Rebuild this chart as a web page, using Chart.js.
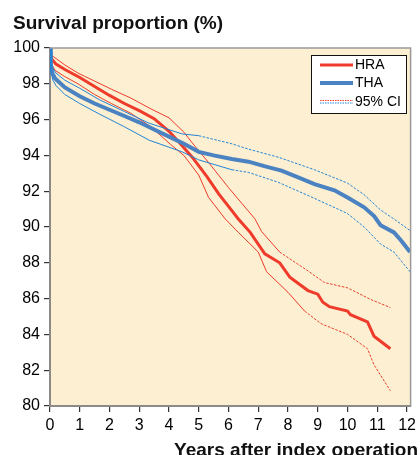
<!DOCTYPE html>
<html>
<head>
<meta charset="utf-8">
<script src="https://cdn.jsdelivr.net/npm/chart.js@4.4.1/dist/chart.umd.min.js"></script>
<style>
  html, body { margin: 0; padding: 0; background: #fff; }
  #wrap { width: 420px; height: 455px; }
</style>
</head>
<body>
<div id="wrap"><canvas id="survivalChart" width="420" height="455"></canvas></div>
<script>
//Data//
const xTicks = [0, 1, 2, 3, 4, 5, 6, 7, 8, 9, 10, 11, 12];
const yTicks = [80, 82, 84, 86, 88, 90, 92, 94, 96, 98, 100];

const hraYears = [0, 0.05, 0.2, 0.5, 1, 1.5, 2, 2.5, 3, 3.5, 4, 4.33, 4.78, 5.28, 5.67, 6, 6.33, 6.73, 7.22, 7.72, 8.06, 8.67, 9.0, 9.17, 9.39, 10.0, 10.1, 10.67, 10.89, 11.44];
const hraSurvival = [100, 99.4, 99.1, 98.8, 98.35, 97.85, 97.35, 96.9, 96.5, 96.05, 95.35, 94.75, 93.9, 92.8, 91.85, 91.15, 90.45, 89.7, 88.5, 88.0, 87.2, 86.45, 86.25, 85.8, 85.55, 85.3, 85.1, 84.7, 83.9, 83.2];

const hraUpperYears = [0, 0.05, 0.17, 0.5, 0.94, 1.5, 2.06, 2.72, 3.39, 4.0, 4.5, 4.78, 5.33, 6.0, 6.89, 7.11, 7.72, 8.17, 8.67, 9.22, 10.0, 10.78, 11.44];
const hraUpper = [100, 99.6, 99.45, 99.05, 98.6, 98.15, 97.7, 97.2, 96.6, 96.1, 95.3, 94.7, 93.6, 92.2, 90.45, 89.75, 88.6, 88.1, 87.55, 86.9, 86.6, 85.95, 85.5];

const hraLowerYears = [0, 0.05, 0.17, 0.5, 0.94, 1.5, 2.06, 2.72, 3.39, 4.06, 4.5, 5.0, 5.33, 5.89, 6.33, 7.0, 7.28, 8.0, 8.56, 9.11, 10.0, 10.67, 10.89, 11.44];
const hraLower = [100, 99.1, 98.75, 98.4, 98.0, 97.4, 96.9, 96.35, 95.6, 94.6, 94.0, 92.9, 91.65, 90.45, 89.7, 88.6, 87.5, 86.35, 85.3, 84.6, 84.0, 83.2, 82.3, 80.85];

const thaYears = [0, 0.03, 0.08, 0.17, 0.5, 1, 1.5, 2, 2.5, 3, 3.5, 4, 4.5, 5, 5.5, 6.11, 6.67, 7.2, 7.78, 8.3, 8.89, 9.56, 10, 10.56, 10.9, 11.11, 11.56, 11.8, 12.1];
const thaSurvival = [100, 99.0, 98.6, 98.3, 97.8, 97.3, 96.9, 96.55, 96.2, 95.85, 95.45, 95.05, 94.65, 94.2, 94.0, 93.8, 93.65, 93.4, 93.15, 92.8, 92.4, 92.05, 91.65, 91.1, 90.6, 90.1, 89.7, 89.25, 88.6];

const thaUpperYears = [0, 0.03, 0.1, 0.2, 0.5, 1, 1.67, 2.5, 3.33, 4.44, 5, 6.11, 6.67, 7.67, 8.89, 10, 10.56, 11.11, 11.56, 12.1];
const thaUpper = [100, 99.3, 98.85, 98.6, 98.2, 97.75, 97.1, 96.45, 95.8, 95.2, 95.1, 94.65, 94.35, 93.9, 93.2, 92.45, 91.8, 90.95, 90.45, 89.8];

const thaLowerYears = [0, 0.03, 0.1, 0.2, 0.5, 1, 1.67, 2.5, 3.33, 4.44, 5, 6.11, 6.67, 7.67, 8.89, 10, 10.56, 11.11, 11.56, 12.1];
const thaLower = [100, 98.7, 98.2, 97.9, 97.4, 96.9, 96.3, 95.6, 94.85, 94.2, 93.75, 93.2, 93.05, 92.5, 91.6, 90.75, 90.0, 89.05, 88.6, 87.5];

//Colours//
const hraColor = "#ee3b2b";
const thaColor = "#4b82c2";
const thaCiColor = "#2384d6";
const plotBackground = "#fdefd1";
const fontFamily = "'Liberation Sans', Arial, Helvetica, sans-serif";

const toPoints = (xs, ys) => xs.map((x, i) => ({ x: x, y: ys[i] }));

// thin CI lines turn dotted further out
const dashAfter = (limit) => ({
  borderDash: (ctx) => (ctx.p0.parsed.x >= limit ? [2.5, 1.5] : undefined),
});

const lineSet = (label, points, color, width, dashFrom) => ({
  label: label,
  data: points,
  borderColor: color,
  borderWidth: width,
  pointRadius: 0,
  tension: 0,
  fill: false,
  segment: dashFrom === undefined ? {} : dashAfter(dashFrom),
});

//Plugins//
const backgroundPlugin = {
  id: "plotBackground",
  beforeDraw: (chart) => {
    const { ctx, chartArea } = chart;
    ctx.save();
    ctx.fillStyle = plotBackground;
    ctx.fillRect(chartArea.left, chartArea.top, chartArea.right - chartArea.left, chartArea.bottom - chartArea.top);
    ctx.restore();
  },
  afterDraw: (chart) => {
    const { ctx, chartArea } = chart;
    ctx.save();
    // grey frame on top and right
    ctx.strokeStyle = "#9a9a9a";
    ctx.lineWidth = 1.5;
    ctx.beginPath();
    ctx.moveTo(chartArea.left, chartArea.top);
    ctx.lineTo(chartArea.right, chartArea.top);
    ctx.lineTo(chartArea.right, chartArea.bottom);
    ctx.stroke();

    // titles
    ctx.fillStyle = "#111";
    ctx.font = `bold 19px ${fontFamily}`;
    ctx.textAlign = "left";
    ctx.textBaseline = "alphabetic";
    ctx.fillText("Survival proportion (%)", 13, 29);
    ctx.textAlign = "right";
    ctx.fillText("Years after index operation", 418, 456);

    // legend box
    const boxX = 311, boxY = 55, boxW = 95, boxH = 58;
    ctx.fillStyle = "#ffffff";
    ctx.fillRect(boxX, boxY, boxW, boxH);
    ctx.strokeStyle = "#111";
    ctx.lineWidth = 1;
    ctx.strokeRect(boxX + 0.5, boxY + 0.5, boxW, boxH);

    const drawSample = (y, color, width, dash) => {
      ctx.beginPath();
      ctx.setLineDash(dash);
      ctx.strokeStyle = color;
      ctx.lineWidth = width;
      ctx.moveTo(320, y);
      ctx.lineTo(353, y);
      ctx.stroke();
      ctx.setLineDash([]);
    };
    drawSample(65, hraColor, 3, []);
    drawSample(83, thaColor, 4, []);
    drawSample(100.5, hraColor, 1, [1.5, 1]);
    drawSample(103, thaCiColor, 1, [1.5, 1]);

    ctx.fillStyle = "#000";
    ctx.font = `14px ${fontFamily}`;
    ctx.textAlign = "left";
    ctx.textBaseline = "middle";
    ctx.fillText("HRA", 355, 65);
    ctx.fillText("THA", 355, 83);
    ctx.fillText("95% CI", 355, 102);
    ctx.restore();
  },
};

//Chart//
const chartCanvas = document.querySelector("#survivalChart").getContext("2d");

const data = {
  datasets: [
    lineSet("THA upper", toPoints(thaUpperYears, thaUpper), thaCiColor, 1, 4.5),
    lineSet("THA lower", toPoints(thaLowerYears, thaLower), thaCiColor, 1, 6),
    lineSet("THA", toPoints(thaYears, thaSurvival), thaColor, 4),
    lineSet("HRA upper", toPoints(hraUpperYears, hraUpper), hraColor, 1, 7.4),
    lineSet("HRA lower", toPoints(hraLowerYears, hraLower), hraColor, 1, 8.2),
    lineSet("HRA", toPoints(hraYears, hraSurvival), hraColor, 3),
  ],
};

const config = {
  type: "line",
  data: data,
  options: {
    responsive: false,
    animation: false,
    devicePixelRatio: 1,
    layout: { padding: { top: 48, right: 6.5, left: 0, bottom: 0 } },
    plugins: {
      legend: { display: false },
      title: { display: false },
      tooltip: { enabled: false },
    },
    scales: {
      x: {
        type: "linear",
        min: 0,
        max: 12.12,
        afterBuildTicks: (scale) => {
          scale.ticks = xTicks.map((v) => ({ value: v }));
        },
        afterFit: (scale) => {
          scale.height = 49;
        },
        grid: { drawOnChartArea: false, drawTicks: true, tickLength: 6, color: "#333", lineWidth: 1.2 },
        border: { color: "#8a8a8a", width: 2 },
        ticks: {
          autoSkip: false,
          maxRotation: 0,
          padding: 4,
          color: "#000",
          font: { family: fontFamily, size: 16 },
        },
      },
      y: {
        type: "linear",
        min: 80,
        max: 100,
        afterBuildTicks: (scale) => {
          scale.ticks = yTicks.map((v) => ({ value: v }));
        },
        afterFit: (scale) => {
          scale.width = 50;
        },
        grid: { drawOnChartArea: false, drawTicks: true, tickLength: 6, color: "#333", lineWidth: 1.2 },
        border: { color: "#8a8a8a", width: 2 },
        ticks: {
          autoSkip: false,
          padding: 4,
          color: "#000",
          font: { family: fontFamily, size: 16 },
        },
      },
    },
  },
  plugins: [backgroundPlugin],
};

const survivalChart = new Chart(chartCanvas, config);
</script>
</body>
</html>
